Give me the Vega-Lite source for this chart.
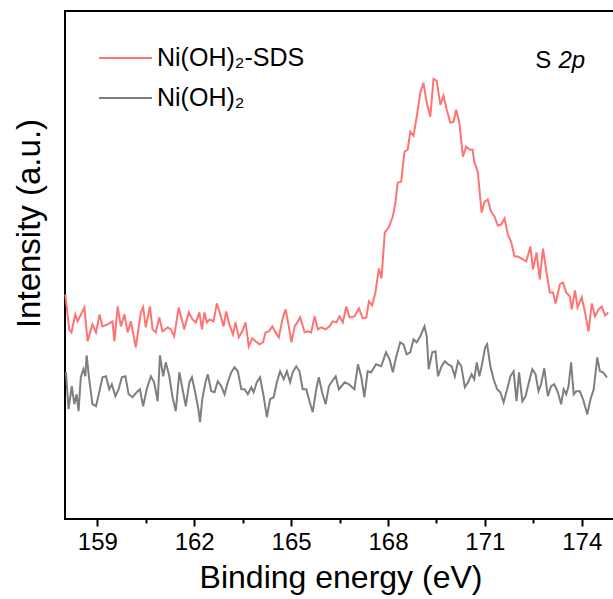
{
  "$schema": "https://vega.github.io/schema/vega-lite/v6.json",
  "width": 551,
  "height": 508,
  "autosize": {"type": "none"},
  "padding": {"left": 65, "top": 11, "right": 0, "bottom": 80},
  "background": "white",
  "config": {
    "view": {"stroke": "black", "strokeWidth": 2},
    "font": "Liberation Sans"
  },
  "datasets": {
    "red": [
      {"E":158.01,"I":225},{"E":158.13,"I":190},{"E":158.20,"I":187},{"E":158.32,"I":205},{"E":158.39,"I":198},{"E":158.60,"I":212},{"E":158.70,"I":178},{"E":158.85,"I":195},{"E":158.96,"I":187},{"E":159.07,"I":205},{"E":159.16,"I":193},{"E":159.32,"I":195},{"E":159.47,"I":198},{"E":159.53,"I":178},{"E":159.63,"I":213},{"E":159.73,"I":193},{"E":159.84,"I":205},{"E":159.94,"I":187},{"E":160.04,"I":198},{"E":160.19,"I":172},{"E":160.35,"I":207},{"E":160.42,"I":212},{"E":160.50,"I":192},{"E":160.63,"I":213},{"E":160.71,"I":190},{"E":160.81,"I":187},{"E":160.92,"I":202},{"E":161.02,"I":188},{"E":161.18,"I":192},{"E":161.28,"I":190},{"E":161.38,"I":183},{"E":161.52,"I":212},{"E":161.64,"I":197},{"E":161.69,"I":190},{"E":161.83,"I":207},{"E":161.95,"I":200},{"E":162.05,"I":197},{"E":162.16,"I":207},{"E":162.24,"I":190},{"E":162.32,"I":207},{"E":162.39,"I":197},{"E":162.48,"I":200},{"E":162.60,"I":198},{"E":162.70,"I":216},{"E":162.79,"I":207},{"E":162.91,"I":193},{"E":162.99,"I":208},{"E":163.09,"I":195},{"E":163.20,"I":185},{"E":163.28,"I":197},{"E":163.38,"I":182},{"E":163.49,"I":188},{"E":163.59,"I":197},{"E":163.69,"I":173},{"E":163.80,"I":181},{"E":163.90,"I":178},{"E":164.02,"I":175},{"E":164.13,"I":177},{"E":164.21,"I":187},{"E":164.31,"I":188},{"E":164.42,"I":193},{"E":164.52,"I":187},{"E":164.62,"I":182},{"E":164.73,"I":200},{"E":164.83,"I":210},{"E":164.93,"I":193},{"E":165.01,"I":177},{"E":165.11,"I":193},{"E":165.21,"I":198},{"E":165.28,"I":202},{"E":165.42,"I":187},{"E":165.52,"I":188},{"E":165.62,"I":187},{"E":165.73,"I":203},{"E":165.83,"I":190},{"E":165.93,"I":192},{"E":166.07,"I":190},{"E":166.19,"I":193},{"E":166.29,"I":198},{"E":166.40,"I":197},{"E":166.50,"I":203},{"E":166.60,"I":197},{"E":166.71,"I":213},{"E":166.81,"I":202},{"E":166.96,"I":203},{"E":167.10,"I":211},{"E":167.22,"I":201},{"E":167.33,"I":202},{"E":167.41,"I":218},{"E":167.51,"I":214},{"E":167.61,"I":227},{"E":167.72,"I":251},{"E":167.80,"I":241},{"E":167.90,"I":287},{"E":168.02,"I":292},{"E":168.15,"I":303},{"E":168.23,"I":317},{"E":168.30,"I":337},{"E":168.41,"I":338},{"E":168.51,"I":368},{"E":168.61,"I":370},{"E":168.69,"I":388},{"E":168.79,"I":384},{"E":168.89,"I":403},{"E":169.00,"I":427},{"E":169.10,"I":437},{"E":169.20,"I":417},{"E":169.31,"I":403},{"E":169.41,"I":441},{"E":169.51,"I":439},{"E":169.62,"I":415},{"E":169.72,"I":424},{"E":169.82,"I":410},{"E":169.93,"I":397},{"E":170.03,"I":398},{"E":170.11,"I":410},{"E":170.21,"I":397},{"E":170.32,"I":363},{"E":170.42,"I":373},{"E":170.54,"I":370},{"E":170.62,"I":370},{"E":170.67,"I":358},{"E":170.78,"I":348},{"E":170.90,"I":307},{"E":170.99,"I":318},{"E":171.09,"I":320},{"E":171.19,"I":308},{"E":171.30,"I":303},{"E":171.40,"I":294},{"E":171.50,"I":295},{"E":171.61,"I":301},{"E":171.71,"I":285},{"E":171.81,"I":278},{"E":171.92,"I":263},{"E":172.02,"I":263},{"E":172.14,"I":261},{"E":172.28,"I":258},{"E":172.41,"I":273},{"E":172.49,"I":250},{"E":172.60,"I":267},{"E":172.70,"I":240},{"E":172.80,"I":271},{"E":172.91,"I":247},{"E":173.01,"I":227},{"E":173.11,"I":227},{"E":173.19,"I":216},{"E":173.32,"I":235},{"E":173.42,"I":237},{"E":173.52,"I":227},{"E":173.63,"I":223},{"E":173.69,"I":210},{"E":173.79,"I":229},{"E":173.87,"I":212},{"E":174.00,"I":222},{"E":174.10,"I":207},{"E":174.21,"I":188},{"E":174.31,"I":216},{"E":174.41,"I":203},{"E":174.52,"I":210},{"E":174.62,"I":213},{"E":174.72,"I":204},{"E":174.82,"I":207}
    ],
    "gray": [
      {"E":158.03,"I":147},{"E":158.11,"I":110},{"E":158.21,"I":133},{"E":158.29,"I":115},{"E":158.36,"I":125},{"E":158.42,"I":108},{"E":158.49,"I":142},{"E":158.57,"I":150},{"E":158.63,"I":143},{"E":158.67,"I":164},{"E":158.75,"I":140},{"E":158.85,"I":115},{"E":158.96,"I":113},{"E":159.06,"I":127},{"E":159.16,"I":142},{"E":159.27,"I":143},{"E":159.37,"I":130},{"E":159.45,"I":135},{"E":159.56,"I":123},{"E":159.66,"I":130},{"E":159.76,"I":142},{"E":159.87,"I":143},{"E":159.97,"I":125},{"E":160.09,"I":122},{"E":160.22,"I":127},{"E":160.32,"I":130},{"E":160.42,"I":113},{"E":160.53,"I":130},{"E":160.66,"I":143},{"E":160.76,"I":137},{"E":160.87,"I":118},{"E":160.94,"I":164},{"E":161.04,"I":143},{"E":161.12,"I":157},{"E":161.23,"I":143},{"E":161.33,"I":122},{"E":161.43,"I":108},{"E":161.54,"I":147},{"E":161.64,"I":130},{"E":161.74,"I":113},{"E":161.85,"I":137},{"E":161.93,"I":142},{"E":162.03,"I":127},{"E":162.13,"I":110},{"E":162.18,"I":97},{"E":162.25,"I":120},{"E":162.35,"I":137},{"E":162.42,"I":145},{"E":162.53,"I":128},{"E":162.63,"I":127},{"E":162.73,"I":138},{"E":162.84,"I":133},{"E":162.94,"I":125},{"E":163.04,"I":137},{"E":163.15,"I":147},{"E":163.25,"I":152},{"E":163.35,"I":148},{"E":163.46,"I":130},{"E":163.56,"I":130},{"E":163.66,"I":125},{"E":163.77,"I":132},{"E":163.84,"I":127},{"E":163.94,"I":137},{"E":164.04,"I":142},{"E":164.15,"I":123},{"E":164.25,"I":102},{"E":164.35,"I":120},{"E":164.46,"I":122},{"E":164.56,"I":137},{"E":164.66,"I":148},{"E":164.77,"I":140},{"E":164.87,"I":148},{"E":164.97,"I":137},{"E":165.05,"I":147},{"E":165.16,"I":153},{"E":165.26,"I":148},{"E":165.36,"I":130},{"E":165.47,"I":130},{"E":165.57,"I":118},{"E":165.67,"I":107},{"E":165.78,"I":130},{"E":165.86,"I":142},{"E":165.96,"I":127},{"E":166.07,"I":115},{"E":166.17,"I":133},{"E":166.27,"I":138},{"E":166.38,"I":143},{"E":166.48,"I":130},{"E":166.66,"I":137},{"E":166.79,"I":135},{"E":166.96,"I":130},{"E":167.07,"I":155},{"E":167.17,"I":143},{"E":167.27,"I":122},{"E":167.37,"I":148},{"E":167.48,"I":147},{"E":167.63,"I":155},{"E":167.79,"I":153},{"E":167.94,"I":167},{"E":168.05,"I":160},{"E":168.15,"I":147},{"E":168.25,"I":162},{"E":168.38,"I":177},{"E":168.48,"I":175},{"E":168.58,"I":165},{"E":168.69,"I":167},{"E":168.79,"I":180},{"E":168.89,"I":177},{"E":169.00,"I":183},{"E":169.13,"I":193},{"E":169.20,"I":183},{"E":169.26,"I":150},{"E":169.37,"I":167},{"E":169.47,"I":168},{"E":169.55,"I":143},{"E":169.66,"I":153},{"E":169.76,"I":158},{"E":169.86,"I":155},{"E":169.97,"I":153},{"E":170.07,"I":143},{"E":170.17,"I":158},{"E":170.27,"I":153},{"E":170.38,"I":132},{"E":170.48,"I":137},{"E":170.59,"I":145},{"E":170.67,"I":140},{"E":170.75,"I":157},{"E":170.83,"I":143},{"E":170.90,"I":153},{"E":171.01,"I":172},{"E":171.07,"I":175},{"E":171.17,"I":153},{"E":171.27,"I":140},{"E":171.38,"I":130},{"E":171.48,"I":127},{"E":171.58,"I":117},{"E":171.69,"I":130},{"E":171.79,"I":143},{"E":171.89,"I":148},{"E":171.98,"I":118},{"E":172.06,"I":147},{"E":172.16,"I":118},{"E":172.26,"I":123},{"E":172.37,"I":138},{"E":172.47,"I":150},{"E":172.57,"I":145},{"E":172.66,"I":128},{"E":172.74,"I":135},{"E":172.84,"I":151},{"E":172.95,"I":123},{"E":173.05,"I":133},{"E":173.15,"I":135},{"E":173.26,"I":127},{"E":173.36,"I":115},{"E":173.44,"I":130},{"E":173.52,"I":125},{"E":173.59,"I":133},{"E":173.67,"I":157},{"E":173.75,"I":125},{"E":173.83,"I":128},{"E":173.94,"I":128},{"E":174.04,"I":120},{"E":174.17,"I":105},{"E":174.27,"I":120},{"E":174.37,"I":130},{"E":174.48,"I":162},{"E":174.56,"I":148},{"E":174.66,"I":147},{"E":174.78,"I":142}
    ],
    "note": [{"part": "S"}, {"part": "2p"}]
  },
  "layer": [
    {
      "data": {"name": "gray"},
      "transform": [{"calculate": "'Ni(OH)₂'", "as": "s"}],
      "mark": {"type": "line", "strokeWidth": 2, "interpolate": "linear"},
      "encoding": {
        "x": {
          "field": "E", "type": "quantitative",
          "scale": {"domain": [158, 175.06], "nice": false, "zero": false},
          "axis": {
            "title": "Binding energy (eV)",
            "values": [159, 160.5, 162, 163.5, 165, 166.5, 168, 169.5, 171, 172.5, 174],
            "labelExpr": "datum.value % 3 == 0 ? datum.label : ''",
            "grid": false,
            "domain": false,
            "tickColor": "black",
            "tickWidth": 2,
            "tickSize": {"condition": {"test": "datum.value % 3 != 0", "value": 4}, "value": 7},
            "labelFont": "Liberation Sans",
            "labelFontSize": 24,
            "labelColor": "black",
            "labelPadding": 4,
            "labelFlush": false,
            "labelOverlap": false,
            "titleFont": "Liberation Sans",
            "titleFontSize": 32,
            "titleFontWeight": "normal",
            "titleColor": "black",
            "titlePadding": 8
          }
        },
        "y": {
          "field": "I", "type": "quantitative",
          "scale": {"domain": [0, 509], "nice": false, "zero": false},
          "axis": {
            "title": "Intensity (a.u.)",
            "labels": false, "ticks": false, "domain": false, "grid": false,
            "titleFont": "Liberation Sans",
            "titleFontSize": 33,
            "titleFontWeight": "normal",
            "titleColor": "black",
            "titleX": -26,
            "titleY": 212,
            "titleAngle": -90,
            "titleAlign": "center",
            "titleBaseline": "alphabetic"
          }
        },
        "color": {
          "field": "s", "type": "nominal",
          "scale": {"domain": ["Ni(OH)₂-SDS", "Ni(OH)₂"], "range": ["#ff7373", "#7f7f7f"]},
          "legend": {
            "title": null,
            "orient": "none",
            "legendX": 33,
            "legendY": 34,
            "symbolType": "stroke",
            "symbolSize": 2809,
            "symbolStrokeWidth": 2,
            "clipHeight": 26,
            "labelFont": "Liberation Sans",
            "labelFontSize": 25,
            "labelColor": "black",
            "labelOffset": 4,
            "rowPadding": 14
          }
        }
      }
    },
    {
      "data": {"name": "red"},
      "transform": [{"calculate": "'Ni(OH)₂-SDS'", "as": "s"}],
      "mark": {"type": "line", "strokeWidth": 2, "interpolate": "linear"},
      "encoding": {
        "x": {"field": "E", "type": "quantitative"},
        "y": {"field": "I", "type": "quantitative"},
        "color": {"field": "s", "type": "nominal"}
      }
    },
    {
      "data": {"name": "note"},
      "transform": [{"filter": "datum.part == 'S'"}],
      "mark": {"type": "text", "font": "Liberation Sans", "fontSize": 24, "align": "left", "baseline": "alphabetic", "color": "black"},
      "encoding": {
        "text": {"field": "part", "type": "nominal"},
        "x": {"datum": 172.56, "type": "quantitative"},
        "y": {"datum": 452, "type": "quantitative"}
      }
    },
    {
      "data": {"name": "note"},
      "transform": [{"filter": "datum.part == '2p'"}],
      "mark": {"type": "text", "font": "Liberation Sans", "fontSize": 24, "fontStyle": "italic", "align": "left", "baseline": "alphabetic", "color": "black"},
      "encoding": {
        "text": {"field": "part", "type": "nominal"},
        "x": {"datum": 173.28, "type": "quantitative"},
        "y": {"datum": 452, "type": "quantitative"}
      }
    }
  ]
}
